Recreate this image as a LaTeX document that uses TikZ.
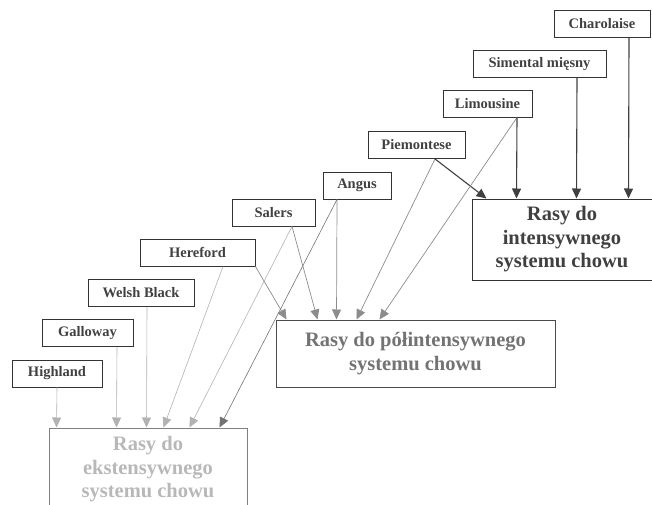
\documentclass[tikz,border=0pt]{standalone}
\usepackage{fontspec}
\setmainfont{Liberation Serif}
\usetikzlibrary{arrows.meta,positioning}

\begin{document}
\begin{tikzpicture}[
  x=1pt, y=-1pt,
  every node/.style={font=\bfseries\fontsize{14.5}{16}\selectfont, align=center, inner sep=0pt},
  breed/.style={draw=black!80, line width=0.9pt, text=black!75, minimum height=27pt},
  sysbox/.style={draw, line width=1pt, font=\bfseries\fontsize{20.5}{23.5}\selectfont},
  arrowhead/.style={-{Triangle[width=9pt,length=10pt]}},
  intlink/.style={arrowhead, draw=black!75, line width=1.1pt},
  semilink/.style={arrowhead, draw=black!45, line width=0.7pt},
  extlink/.style={arrowhead, draw=black!30, line width=0.6pt}
]
\clip (0,0) rectangle (652,505);

% breeds, from the bottom step upwards
\node[breed, minimum width=90pt] (highland) at (57,373.5) {Highland};
\node[breed, minimum width=91pt] (galloway) at (87.5,333) {Galloway};
\node[breed, minimum width=106pt] (welsh) at (141,293) {Welsh Black};
\node[breed, minimum width=115pt] (hereford) at (197.5,252.5) {Hereford};
\node[breed, minimum width=83pt] (salers) at (273.5,212.5) {Salers};
\node[breed, minimum width=68pt] (angus) at (357,185.5) {Angus};
\node[breed, minimum width=97pt] (piemontese) at (416.5,145) {Piemontese};
\node[breed, minimum width=89pt] (limousine) at (487.5,103.5) {Limousine};
\node[breed, minimum width=133pt] (simental) at (539.5,64) {Simental mięsny};
\node[breed, minimum width=96pt] (charolaise) at (602,24) {Charolaise};

% systems
\node[sysbox, draw=black!80, text=black!75, minimum width=180pt, minimum height=81pt] (intensive) at (562,239.5) {Rasy do\\intensywnego\\systemu chowu};
\node[sysbox, draw=black!70, text=black!55, minimum width=279pt, minimum height=67pt] (semi) at (415.5,353.5) {Rasy do półintensywnego\\systemu chowu};
\node[sysbox, draw=black!50, text=black!28, minimum width=198pt, minimum height=83pt] (extensive) at (148,469.5) {Rasy do\\ekstensywnego\\systemu chowu};

\draw[extlink] (highland.south) -- ([xshift=8pt]extensive.north west);
\draw[extlink] ([xshift=29.5pt]galloway.south) -- ([xshift=68pt]extensive.north west);
\draw[extlink] ([xshift=6pt]welsh.south) -- ([xshift=98pt]extensive.north west);
\draw[extlink] ([xshift=25.5pt]hereford.south) -- ([xshift=115pt]extensive.north west);
\draw[semilink] (hereford.south east) -- ([xshift=11pt]semi.north west);
\draw[extlink] ([xshift=18.5pt]salers.south) -- ([xshift=141pt]extensive.north west);
\draw[semilink] ([xshift=18.5pt]salers.south) -- ([xshift=42pt]semi.north west);
\draw[semilink] ([xshift=-20pt]angus.south) -- ([xshift=61pt]semi.north west);
\draw[extlink, draw=black!55] ([xshift=-20pt]angus.south) -- ([xshift=171pt]extensive.north west);
\draw[semilink] ([xshift=18.5pt]piemontese.south) -- ([xshift=81pt]semi.north west);
\draw[intlink] ([xshift=18.5pt]piemontese.south) -- ([xshift=15pt]intensive.north west);
\draw[semilink] ([xshift=29.5pt]limousine.south) -- ([xshift=104pt]semi.north west);
\draw[intlink] ([xshift=29.5pt]limousine.south) -- ([xshift=45pt]intensive.north west);
\draw[intlink] ([xshift=37.5pt]simental.south) -- ([xshift=105pt]intensive.north west);
\draw[intlink] ([xshift=27pt]charolaise.south) -- ([xshift=157pt]intensive.north west);

\end{tikzpicture}
\end{document}
